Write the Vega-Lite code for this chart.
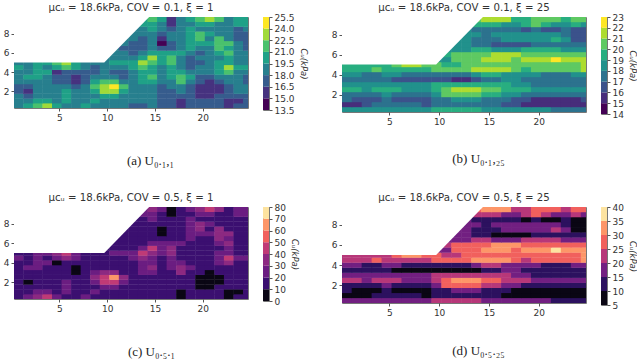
{"$schema":"https://vega.github.io/schema/vega-lite/v6.json","padding":{"left":2,"top":2,"right":0,"bottom":0},"background":"white","bounds":"flush","columns":5,"spacing":{"column":15,"row":93},
"config":{"view":{"stroke":"#777"},"axis":{"grid":false,"domain":false,"tickColor":"#555","tickSize":3,"labelFontSize":9,"labelColor":"#333","labelFont":"DejaVu Sans","labelPadding":2,"labelOverlap":false},"title":{"font":"DejaVu Sans","fontSize":10.2,"fontWeight":"normal","color":"#333","offset":4}},
"datasets":{
"mask":[{"sx":0.25,"sy":5},{"sx":9.7,"sy":5},{"sx":14.4,"sy":9.75}],
"barA":[{"lo":13.5,"hi":15},{"lo":15,"hi":16.5},{"lo":16.5,"hi":18},{"lo":18,"hi":19.5},{"lo":19.5,"hi":21},{"lo":21,"hi":22.5},{"lo":22.5,"hi":24},{"lo":24,"hi":25.5}],
"barB":[{"lo":14,"hi":15},{"lo":15,"hi":16},{"lo":16,"hi":17},{"lo":17,"hi":18},{"lo":18,"hi":19},{"lo":19,"hi":20},{"lo":20,"hi":21},{"lo":21,"hi":22},{"lo":22,"hi":23}],
"barC":[{"lo":0,"hi":10},{"lo":10,"hi":20},{"lo":20,"hi":30},{"lo":30,"hi":40},{"lo":40,"hi":50},{"lo":50,"hi":60},{"lo":60,"hi":70},{"lo":70,"hi":80}],
"barD":[{"lo":5,"hi":10},{"lo":10,"hi":15},{"lo":15,"hi":20},{"lo":20,"hi":25},{"lo":25,"hi":30},{"lo":30,"hi":35},{"lo":35,"hi":40}],
"grid":[
{"x":0.75,"y":0.5,"a":19,"c":18,"b":18,"d":17},{"x":1.75,"y":0.5,"a":20,"c":25,"b":18,"d":17},{"x":2.75,"y":0.5,"a":22,"c":35,"b":18,"d":17},{"x":3.75,"y":0.5,"a":23,"c":48,"b":18,"d":17},{"x":4.75,"y":0.5,"a":20,"c":25,"b":18,"d":17},{"x":5.75,"y":0.5,"a":19,"c":18,"b":18,"d":17},{"x":6.75,"y":0.5,"a":19,"c":18,"b":18,"d":17},{"x":7.75,"y":0.5,"a":20,"c":25,"b":18,"d":17},{"x":8.75,"y":0.5,"a":19,"c":18,"b":18,"d":17},{"x":9.75,"y":0.5,"a":19,"c":18,"b":19,"d":22},{"x":10.75,"y":0.5,"a":19,"c":18,"b":19,"d":22},{"x":11.75,"y":0.5,"a":19,"c":18,"b":19,"d":22},{"x":12.75,"y":0.5,"a":17,"c":13,"b":19,"d":22},{"x":13.75,"y":0.5,"a":17,"c":13,"b":19,"d":22},{"x":14.75,"y":0.5,"a":19,"c":18,"b":18,"d":17},{"x":15.75,"y":0.5,"a":17,"c":13,"b":18,"d":17},{"x":16.75,"y":0.5,"a":17,"c":13,"b":18,"d":17},{"x":17.75,"y":0.5,"a":16,"c":8,"b":18,"d":17},{"x":18.75,"y":0.5,"a":17,"c":13,"b":18,"d":17},{"x":19.75,"y":0.5,"a":17,"c":13,"b":18,"d":17},{"x":20.75,"y":0.5,"a":17,"c":13,"b":18,"d":17},{"x":21.75,"y":0.5,"a":17,"c":13,"b":17,"d":12},{"x":22.75,"y":0.5,"a":16,"c":8,"b":17,"d":12},{"x":23.75,"y":0.5,"a":17,"c":13,"b":17,"d":12},{"x":24.75,"y":0.5,"a":17,"c":13,"b":17,"d":12},
{"x":0.75,"y":1,"a":19,"c":18,"b":15,"d":7},{"x":1.75,"y":1,"a":19,"c":18,"b":15,"d":7},{"x":2.75,"y":1,"a":20,"c":25,"b":16,"d":9},{"x":3.75,"y":1,"a":20,"c":25,"b":17,"d":12},{"x":4.75,"y":1,"a":19,"c":18,"b":17,"d":12},{"x":5.75,"y":1,"a":20,"c":25,"b":17,"d":12},{"x":6.75,"y":1,"a":19,"c":18,"b":17,"d":12},{"x":7.75,"y":1,"a":19,"c":18,"b":17,"d":12},{"x":8.75,"y":1,"a":20,"c":25,"b":16,"d":9},{"x":9.75,"y":1,"a":19,"c":18,"b":17,"d":12},{"x":10.75,"y":1,"a":19,"c":18,"b":17,"d":12},{"x":11.75,"y":1,"a":19,"c":18,"b":17,"d":12},{"x":12.75,"y":1,"a":19,"c":18,"b":17,"d":12},{"x":13.75,"y":1,"a":19,"c":18,"b":17,"d":12},{"x":14.75,"y":1,"a":19,"c":18,"b":17,"d":12},{"x":15.75,"y":1,"a":17,"c":13,"b":17,"d":12},{"x":16.75,"y":1,"a":17,"c":13,"b":16,"d":9},{"x":17.75,"y":1,"a":16,"c":8,"b":16,"d":9},{"x":18.75,"y":1,"a":17,"c":13,"b":15,"d":7},{"x":19.75,"y":1,"a":17,"c":13,"b":15,"d":7},{"x":20.75,"y":1,"a":17,"c":13,"b":15,"d":7},{"x":21.75,"y":1,"a":17,"c":13,"b":15,"d":7},{"x":22.75,"y":1,"a":16,"c":8,"b":15,"d":7},{"x":23.75,"y":1,"a":16,"c":8,"b":15,"d":7},{"x":24.75,"y":1,"a":17,"c":13,"b":15,"d":7},
{"x":0.75,"y":1.5,"a":19,"c":18,"b":17,"d":12},{"x":1.75,"y":1.5,"a":17,"c":13,"b":16,"d":9},{"x":2.75,"y":1.5,"a":19,"c":18,"b":16,"d":9},{"x":3.75,"y":1.5,"a":19,"c":18,"b":16,"d":9},{"x":4.75,"y":1.5,"a":19,"c":18,"b":17,"d":12},{"x":5.75,"y":1.5,"a":20,"c":25,"b":16,"d":9},{"x":6.75,"y":1.5,"a":19,"c":18,"b":16,"d":9},{"x":7.75,"y":1.5,"a":19,"c":18,"b":16,"d":9},{"x":8.75,"y":1.5,"a":19,"c":18,"b":16,"d":9},{"x":9.75,"y":1.5,"a":20,"c":25,"b":17,"d":12},{"x":10.75,"y":1.5,"a":20,"c":25,"b":17,"d":12},{"x":11.75,"y":1.5,"a":19,"c":18,"b":18,"d":17},{"x":12.75,"y":1.5,"a":19,"c":18,"b":18,"d":17},{"x":13.75,"y":1.5,"a":19,"c":18,"b":18,"d":17},{"x":14.75,"y":1.5,"a":19,"c":18,"b":17,"d":12},{"x":15.75,"y":1.5,"a":17,"c":13,"b":17,"d":12},{"x":16.75,"y":1.5,"a":17,"c":13,"b":17,"d":12},{"x":17.75,"y":1.5,"a":17,"c":13,"b":16,"d":9},{"x":18.75,"y":1.5,"a":17,"c":13,"b":16,"d":9},{"x":19.75,"y":1.5,"a":16,"c":8,"b":15,"d":7},{"x":20.75,"y":1.5,"a":16,"c":8,"b":15,"d":7},{"x":21.75,"y":1.5,"a":17,"c":13,"b":15,"d":7},{"x":22.75,"y":1.5,"a":17,"c":13,"b":15,"d":7},{"x":23.75,"y":1.5,"a":17,"c":13,"b":15,"d":7},{"x":24.75,"y":1.5,"a":17,"c":13,"b":16,"d":9},
{"x":0.75,"y":2,"a":17,"c":13,"b":17,"d":12},{"x":1.75,"y":2,"a":16,"c":8,"b":17,"d":12},{"x":2.75,"y":2,"a":19,"c":18,"b":17,"d":12},{"x":3.75,"y":2,"a":19,"c":18,"b":17,"d":12},{"x":4.75,"y":2,"a":19,"c":18,"b":18,"d":17},{"x":5.75,"y":2,"a":20,"c":25,"b":17,"d":12},{"x":6.75,"y":2,"a":19,"c":18,"b":17,"d":12},{"x":7.75,"y":2,"a":19,"c":18,"b":17,"d":12},{"x":8.75,"y":2,"a":20,"c":25,"b":17,"d":12},{"x":9.75,"y":2,"a":23,"c":48,"b":18,"d":17},{"x":10.75,"y":2,"a":23,"c":48,"b":20,"d":27},{"x":11.75,"y":2,"a":20,"c":25,"b":20,"d":27},{"x":12.75,"y":2,"a":19,"c":18,"b":20,"d":27},{"x":13.75,"y":2,"a":19,"c":18,"b":20,"d":27},{"x":14.75,"y":2,"a":19,"c":18,"b":19,"d":22},{"x":15.75,"y":2,"a":17,"c":13,"b":19,"d":22},{"x":16.75,"y":2,"a":17,"c":13,"b":18,"d":17},{"x":17.75,"y":2,"a":19,"c":18,"b":18,"d":17},{"x":18.75,"y":2,"a":17,"c":13,"b":17,"d":12},{"x":19.75,"y":2,"a":16,"c":8,"b":17,"d":12},{"x":20.75,"y":2,"a":16,"c":8,"b":17,"d":12},{"x":21.75,"y":2,"a":16,"c":8,"b":17,"d":12},{"x":22.75,"y":2,"a":17,"c":13,"b":17,"d":12},{"x":23.75,"y":2,"a":19,"c":18,"b":17,"d":12},{"x":24.75,"y":2,"a":19,"c":18,"b":17,"d":12},
{"x":0.75,"y":2.5,"a":17,"c":13,"b":19,"d":22},{"x":1.75,"y":2.5,"a":17,"c":13,"b":19,"d":22},{"x":2.75,"y":2.5,"a":19,"c":18,"b":18,"d":17},{"x":3.75,"y":2.5,"a":19,"c":18,"b":19,"d":22},{"x":4.75,"y":2.5,"a":19,"c":18,"b":19,"d":22},{"x":5.75,"y":2.5,"a":19,"c":18,"b":19,"d":22},{"x":6.75,"y":2.5,"a":17,"c":13,"b":18,"d":17},{"x":7.75,"y":2.5,"a":19,"c":18,"b":18,"d":17},{"x":8.75,"y":2.5,"a":22,"c":35,"b":18,"d":17},{"x":9.75,"y":2.5,"a":23,"c":48,"b":19,"d":22},{"x":10.75,"y":2.5,"a":25,"c":65,"b":20,"d":27},{"x":11.75,"y":2.5,"a":22,"c":35,"b":21,"d":33},{"x":12.75,"y":2.5,"a":19,"c":18,"b":21,"d":33},{"x":13.75,"y":2.5,"a":19,"c":18,"b":21,"d":33},{"x":14.75,"y":2.5,"a":19,"c":18,"b":20,"d":27},{"x":15.75,"y":2.5,"a":17,"c":13,"b":20,"d":27},{"x":16.75,"y":2.5,"a":19,"c":18,"b":19,"d":22},{"x":17.75,"y":2.5,"a":19,"c":18,"b":19,"d":22},{"x":18.75,"y":2.5,"a":17,"c":13,"b":19,"d":22},{"x":19.75,"y":2.5,"a":16,"c":8,"b":18,"d":17},{"x":20.75,"y":2.5,"a":16,"c":8,"b":18,"d":17},{"x":21.75,"y":2.5,"a":16,"c":8,"b":18,"d":17},{"x":22.75,"y":2.5,"a":17,"c":13,"b":18,"d":17},{"x":23.75,"y":2.5,"a":19,"c":18,"b":18,"d":17},{"x":24.75,"y":2.5,"a":19,"c":18,"b":18,"d":17},
{"x":0.75,"y":3,"a":19,"c":18,"b":18,"d":17},{"x":1.75,"y":3,"a":19,"c":18,"b":18,"d":17},{"x":2.75,"y":3,"a":19,"c":18,"b":18,"d":17},{"x":3.75,"y":3,"a":19,"c":18,"b":18,"d":17},{"x":4.75,"y":3,"a":17,"c":13,"b":18,"d":17},{"x":5.75,"y":3,"a":17,"c":13,"b":18,"d":17},{"x":6.75,"y":3,"a":16,"c":8,"b":18,"d":17},{"x":7.75,"y":3,"a":17,"c":13,"b":18,"d":17},{"x":8.75,"y":3,"a":20,"c":25,"b":18,"d":17},{"x":9.75,"y":3,"a":22,"c":35,"b":19,"d":22},{"x":10.75,"y":3,"a":22,"c":35,"b":19,"d":22},{"x":11.75,"y":3,"a":19,"c":18,"b":19,"d":22},{"x":12.75,"y":3,"a":19,"c":18,"b":19,"d":22},{"x":13.75,"y":3,"a":20,"c":25,"b":19,"d":22},{"x":14.75,"y":3,"a":20,"c":25,"b":19,"d":22},{"x":15.75,"y":3,"a":19,"c":18,"b":19,"d":22},{"x":16.75,"y":3,"a":19,"c":18,"b":19,"d":22},{"x":17.75,"y":3,"a":22,"c":35,"b":18,"d":17},{"x":18.75,"y":3,"a":19,"c":18,"b":18,"d":17},{"x":19.75,"y":3,"a":17,"c":13,"b":17,"d":12},{"x":20.75,"y":3,"a":16,"c":8,"b":17,"d":12},{"x":21.75,"y":3,"a":17,"c":13,"b":17,"d":12},{"x":22.75,"y":3,"a":19,"c":18,"b":17,"d":12},{"x":23.75,"y":3,"a":19,"c":18,"b":17,"d":12},{"x":24.75,"y":3,"a":17,"c":13,"b":17,"d":12},
{"x":0.75,"y":3.5,"a":19,"c":18,"b":17,"d":12},{"x":1.75,"y":3.5,"a":20,"c":25,"b":17,"d":12},{"x":2.75,"y":3.5,"a":20,"c":25,"b":17,"d":12},{"x":3.75,"y":3.5,"a":19,"c":18,"b":17,"d":12},{"x":4.75,"y":3.5,"a":17,"c":13,"b":17,"d":12},{"x":5.75,"y":3.5,"a":17,"c":13,"b":16,"d":9},{"x":6.75,"y":3.5,"a":16,"c":8,"b":16,"d":9},{"x":7.75,"y":3.5,"a":17,"c":13,"b":16,"d":9},{"x":8.75,"y":3.5,"a":19,"c":18,"b":16,"d":9},{"x":9.75,"y":3.5,"a":19,"c":18,"b":16,"d":9},{"x":10.75,"y":3.5,"a":19,"c":18,"b":16,"d":9},{"x":11.75,"y":3.5,"a":17,"c":13,"b":15,"d":7},{"x":12.75,"y":3.5,"a":19,"c":18,"b":15,"d":7},{"x":13.75,"y":3.5,"a":20,"c":25,"b":16,"d":9},{"x":14.75,"y":3.5,"a":22,"c":35,"b":17,"d":12},{"x":15.75,"y":3.5,"a":19,"c":18,"b":17,"d":12},{"x":16.75,"y":3.5,"a":20,"c":25,"b":18,"d":17},{"x":17.75,"y":3.5,"a":22,"c":35,"b":18,"d":17},{"x":18.75,"y":3.5,"a":20,"c":25,"b":17,"d":12},{"x":19.75,"y":3.5,"a":17,"c":13,"b":17,"d":12},{"x":20.75,"y":3.5,"a":17,"c":13,"b":17,"d":12},{"x":21.75,"y":3.5,"a":19,"c":18,"b":17,"d":12},{"x":22.75,"y":3.5,"a":19,"c":18,"b":17,"d":12},{"x":23.75,"y":3.5,"a":19,"c":18,"b":17,"d":12},{"x":24.75,"y":3.5,"a":17,"c":13,"b":17,"d":12},
{"x":0.75,"y":4,"a":19,"c":18,"b":18,"d":17},{"x":1.75,"y":4,"a":19,"c":18,"b":18,"d":17},{"x":2.75,"y":4,"a":20,"c":25,"b":17,"d":12},{"x":3.75,"y":4,"a":20,"c":25,"b":17,"d":12},{"x":4.75,"y":4,"a":16,"c":8,"b":18,"d":17},{"x":5.75,"y":4,"a":17,"c":13,"b":18,"d":17},{"x":6.75,"y":4,"a":17,"c":13,"b":17,"d":12},{"x":7.75,"y":4,"a":17,"c":13,"b":17,"d":12},{"x":8.75,"y":4,"a":17,"c":13,"b":17,"d":12},{"x":9.75,"y":4,"a":19,"c":18,"b":17,"d":12},{"x":10.75,"y":4,"a":17,"c":13,"b":17,"d":12},{"x":11.75,"y":4,"a":17,"c":13,"b":17,"d":12},{"x":12.75,"y":4,"a":19,"c":18,"b":17,"d":12},{"x":13.75,"y":4,"a":20,"c":25,"b":18,"d":17},{"x":14.75,"y":4,"a":20,"c":25,"b":19,"d":22},{"x":15.75,"y":4,"a":19,"c":18,"b":19,"d":22},{"x":16.75,"y":4,"a":20,"c":25,"b":18,"d":17},{"x":17.75,"y":4,"a":20,"c":25,"b":18,"d":17},{"x":18.75,"y":4,"a":19,"c":18,"b":18,"d":17},{"x":19.75,"y":4,"a":19,"c":18,"b":18,"d":17},{"x":20.75,"y":4,"a":19,"c":18,"b":17,"d":12},{"x":21.75,"y":4,"a":20,"c":25,"b":17,"d":12},{"x":22.75,"y":4,"a":22,"c":35,"b":17,"d":12},{"x":23.75,"y":4,"a":19,"c":18,"b":18,"d":17},{"x":24.75,"y":4,"a":19,"c":18,"b":18,"d":17},
{"x":0.75,"y":4.5,"a":20,"c":25,"b":19,"d":22},{"x":1.75,"y":4.5,"a":19,"c":18,"b":19,"d":22},{"x":2.75,"y":4.5,"a":20,"c":25,"b":19,"d":22},{"x":3.75,"y":4.5,"a":19,"c":18,"b":20,"d":27},{"x":4.75,"y":4.5,"a":20,"c":25,"b":19,"d":22},{"x":5.75,"y":4.5,"a":22,"c":35,"b":19,"d":22},{"x":6.75,"y":4.5,"a":20,"c":25,"b":19,"d":22},{"x":7.75,"y":4.5,"a":19,"c":18,"b":19,"d":22},{"x":8.75,"y":4.5,"a":17,"c":13,"b":19,"d":22},{"x":9.75,"y":4.5,"a":19,"c":18,"b":20,"d":27},{"x":10.75,"y":4.5,"a":19,"c":18,"b":20,"d":27},{"x":11.75,"y":4.5,"a":19,"c":18,"b":20,"d":27},{"x":12.75,"y":4.5,"a":20,"c":25,"b":20,"d":27},{"x":13.75,"y":4.5,"a":22,"c":35,"b":21,"d":33},{"x":14.75,"y":4.5,"a":20,"c":25,"b":21,"d":33},{"x":15.75,"y":4.5,"a":19,"c":18,"b":21,"d":33},{"x":16.75,"y":4.5,"a":20,"c":25,"b":21,"d":33},{"x":17.75,"y":4.5,"a":19,"c":18,"b":20,"d":27},{"x":18.75,"y":4.5,"a":17,"c":13,"b":19,"d":22},{"x":19.75,"y":4.5,"a":19,"c":18,"b":20,"d":27},{"x":20.75,"y":4.5,"a":19,"c":18,"b":20,"d":27},{"x":21.75,"y":4.5,"a":20,"c":25,"b":20,"d":27},{"x":22.75,"y":4.5,"a":23,"c":48,"b":20,"d":27},{"x":23.75,"y":4.5,"a":20,"c":25,"b":20,"d":27},{"x":24.75,"y":4.5,"a":20,"c":25,"b":21,"d":33},
{"x":0.75,"y":5,"a":19,"c":18,"b":19,"d":22},{"x":1.75,"y":5,"a":19,"c":18,"b":19,"d":22},{"x":2.75,"y":5,"a":20,"c":25,"b":19,"d":22},{"x":3.75,"y":5,"a":20,"c":25,"b":19,"d":22},{"x":4.75,"y":5,"a":22,"c":35,"b":19,"d":22},{"x":5.75,"y":5,"a":23,"c":48,"b":20,"d":27},{"x":6.75,"y":5,"a":20,"c":25,"b":21,"d":33},{"x":7.75,"y":5,"a":19,"c":18,"b":21,"d":33},{"x":8.75,"y":5,"a":19,"c":18,"b":20,"d":27},{"x":9.75,"y":5,"a":19,"c":18,"b":20,"d":27},{"x":10.75,"y":5,"a":20,"c":25,"b":19,"d":22},{"x":11.75,"y":5,"a":20,"c":25,"b":19,"d":22},{"x":12.75,"y":5,"a":20,"c":25,"b":20,"d":27},{"x":13.75,"y":5,"a":23,"c":48,"b":20,"d":27},{"x":14.75,"y":5,"a":22,"c":35,"b":20,"d":27},{"x":15.75,"y":5,"a":20,"c":25,"b":20,"d":27},{"x":16.75,"y":5,"a":22,"c":35,"b":20,"d":27},{"x":17.75,"y":5,"a":19,"c":18,"b":20,"d":27},{"x":18.75,"y":5,"a":17,"c":13,"b":20,"d":27},{"x":19.75,"y":5,"a":17,"c":13,"b":20,"d":27},{"x":20.75,"y":5,"a":19,"c":18,"b":20,"d":27},{"x":21.75,"y":5,"a":20,"c":25,"b":20,"d":27},{"x":22.75,"y":5,"a":20,"c":25,"b":20,"d":27},{"x":23.75,"y":5,"a":19,"c":18,"b":20,"d":27},{"x":24.75,"y":5,"a":19,"c":18,"b":21,"d":33},
{"x":9.75,"y":5.5,"a":19,"c":18,"b":18,"d":17},{"x":10.75,"y":5.5,"a":19,"c":18,"b":18,"d":17},{"x":11.75,"y":5.5,"a":19,"c":18,"b":20,"d":27},{"x":12.75,"y":5.5,"a":19,"c":18,"b":20,"d":27},{"x":13.75,"y":5.5,"a":20,"c":25,"b":20,"d":27},{"x":14.75,"y":5.5,"a":23,"c":48,"b":21,"d":33},{"x":15.75,"y":5.5,"a":20,"c":25,"b":21,"d":33},{"x":16.75,"y":5.5,"a":22,"c":35,"b":21,"d":33},{"x":17.75,"y":5.5,"a":19,"c":18,"b":20,"d":27},{"x":18.75,"y":5.5,"a":17,"c":13,"b":21,"d":33},{"x":19.75,"y":5.5,"a":19,"c":18,"b":21,"d":33},{"x":20.75,"y":5.5,"a":19,"c":18,"b":21,"d":33},{"x":21.75,"y":5.5,"a":19,"c":18,"b":22,"d":38},{"x":22.75,"y":5.5,"a":20,"c":25,"b":21,"d":33},{"x":23.75,"y":5.5,"a":19,"c":18,"b":21,"d":33},{"x":24.75,"y":5.5,"a":19,"c":18,"b":21,"d":33},
{"x":10.75,"y":6,"a":19,"c":18,"b":19,"d":22},{"x":11.75,"y":6,"a":19,"c":18,"b":20,"d":27},{"x":12.75,"y":6,"a":17,"c":13,"b":20,"d":27},{"x":13.75,"y":6,"a":19,"c":18,"b":20,"d":27},{"x":14.75,"y":6,"a":20,"c":25,"b":20,"d":27},{"x":15.75,"y":6,"a":20,"c":25,"b":21,"d":33},{"x":16.75,"y":6,"a":20,"c":25,"b":21,"d":33},{"x":17.75,"y":6,"a":20,"c":25,"b":21,"d":33},{"x":18.75,"y":6,"a":19,"c":18,"b":20,"d":27},{"x":19.75,"y":6,"a":17,"c":13,"b":20,"d":27},{"x":20.75,"y":6,"a":19,"c":18,"b":20,"d":27},{"x":21.75,"y":6,"a":20,"c":25,"b":20,"d":27},{"x":22.75,"y":6,"a":22,"c":35,"b":20,"d":27},{"x":23.75,"y":6,"a":19,"c":18,"b":20,"d":27},{"x":24.75,"y":6,"a":19,"c":18,"b":20,"d":27},
{"x":10.75,"y":6.5,"a":19,"c":18,"b":18,"d":17},{"x":11.75,"y":6.5,"a":17,"c":13,"b":18,"d":17},{"x":12.75,"y":6.5,"a":17,"c":13,"b":18,"d":17},{"x":13.75,"y":6.5,"a":17,"c":13,"b":19,"d":22},{"x":14.75,"y":6.5,"a":19,"c":18,"b":19,"d":22},{"x":15.75,"y":6.5,"a":17,"c":13,"b":18,"d":17},{"x":16.75,"y":6.5,"a":17,"c":13,"b":18,"d":17},{"x":17.75,"y":6.5,"a":19,"c":18,"b":18,"d":17},{"x":18.75,"y":6.5,"a":20,"c":25,"b":19,"d":22},{"x":19.75,"y":6.5,"a":19,"c":18,"b":19,"d":22},{"x":20.75,"y":6.5,"a":19,"c":18,"b":19,"d":22},{"x":21.75,"y":6.5,"a":22,"c":35,"b":19,"d":22},{"x":22.75,"y":6.5,"a":20,"c":25,"b":18,"d":17},{"x":23.75,"y":6.5,"a":19,"c":18,"b":18,"d":17},{"x":24.75,"y":6.5,"a":17,"c":13,"b":18,"d":17},
{"x":11.75,"y":7,"a":19,"c":18,"b":18,"d":17},{"x":12.75,"y":7,"a":17,"c":13,"b":18,"d":17},{"x":13.75,"y":7,"a":17,"c":13,"b":17,"d":12},{"x":14.75,"y":7,"a":19,"c":18,"b":17,"d":12},{"x":15.75,"y":7,"a":14,"c":5,"b":16,"d":9},{"x":16.75,"y":7,"a":17,"c":13,"b":16,"d":9},{"x":17.75,"y":7,"a":19,"c":18,"b":16,"d":9},{"x":18.75,"y":7,"a":20,"c":25,"b":16,"d":9},{"x":19.75,"y":7,"a":20,"c":25,"b":17,"d":12},{"x":20.75,"y":7,"a":20,"c":25,"b":17,"d":12},{"x":21.75,"y":7,"a":22,"c":35,"b":17,"d":12},{"x":22.75,"y":7,"a":22,"c":35,"b":17,"d":12},{"x":23.75,"y":7,"a":19,"c":18,"b":17,"d":12},{"x":24.75,"y":7,"a":17,"c":13,"b":17,"d":12},
{"x":11.75,"y":7.5,"a":19,"c":18,"b":18,"d":17},{"x":12.75,"y":7.5,"a":19,"c":18,"b":18,"d":17},{"x":13.75,"y":7.5,"a":17,"c":13,"b":17,"d":12},{"x":14.75,"y":7.5,"a":19,"c":18,"b":17,"d":12},{"x":15.75,"y":7.5,"a":16,"c":8,"b":17,"d":12},{"x":16.75,"y":7.5,"a":19,"c":18,"b":18,"d":17},{"x":17.75,"y":7.5,"a":19,"c":18,"b":18,"d":17},{"x":18.75,"y":7.5,"a":20,"c":25,"b":18,"d":17},{"x":19.75,"y":7.5,"a":22,"c":35,"b":18,"d":17},{"x":20.75,"y":7.5,"a":19,"c":18,"b":18,"d":17},{"x":21.75,"y":7.5,"a":22,"c":35,"b":19,"d":22},{"x":22.75,"y":7.5,"a":19,"c":18,"b":18,"d":17},{"x":23.75,"y":7.5,"a":17,"c":13,"b":16,"d":9},{"x":24.75,"y":7.5,"a":17,"c":13,"b":16,"d":9},
{"x":12.75,"y":8,"a":19,"c":18,"b":18,"d":17},{"x":13.75,"y":8,"a":19,"c":18,"b":18,"d":17},{"x":14.75,"y":8,"a":19,"c":18,"b":17,"d":12},{"x":15.75,"y":8,"a":17,"c":13,"b":18,"d":17},{"x":16.75,"y":8,"a":19,"c":18,"b":18,"d":17},{"x":17.75,"y":8,"a":19,"c":18,"b":18,"d":17},{"x":18.75,"y":8,"a":20,"c":25,"b":18,"d":17},{"x":19.75,"y":8,"a":22,"c":35,"b":18,"d":17},{"x":20.75,"y":8,"a":20,"c":25,"b":18,"d":17},{"x":21.75,"y":8,"a":19,"c":18,"b":18,"d":17},{"x":22.75,"y":8,"a":19,"c":18,"b":17,"d":12},{"x":23.75,"y":8,"a":17,"c":13,"b":16,"d":9},{"x":24.75,"y":8,"a":17,"c":13,"b":16,"d":9},
{"x":12.75,"y":8.5,"a":19,"c":18,"b":18,"d":17},{"x":13.75,"y":8.5,"a":19,"c":18,"b":17,"d":12},{"x":14.75,"y":8.5,"a":20,"c":25,"b":17,"d":12},{"x":15.75,"y":8.5,"a":19,"c":18,"b":17,"d":12},{"x":16.75,"y":8.5,"a":17,"c":13,"b":17,"d":12},{"x":17.75,"y":8.5,"a":19,"c":18,"b":17,"d":12},{"x":18.75,"y":8.5,"a":20,"c":25,"b":16,"d":9},{"x":19.75,"y":8.5,"a":19,"c":18,"b":17,"d":12},{"x":20.75,"y":8.5,"a":19,"c":18,"b":16,"d":9},{"x":21.75,"y":8.5,"a":19,"c":18,"b":16,"d":9},{"x":22.75,"y":8.5,"a":19,"c":18,"b":17,"d":12},{"x":23.75,"y":8.5,"a":17,"c":13,"b":16,"d":9},{"x":24.75,"y":8.5,"a":19,"c":18,"b":16,"d":9},
{"x":13.75,"y":9,"a":20,"c":25,"b":19,"d":22},{"x":14.75,"y":9,"a":20,"c":25,"b":19,"d":22},{"x":15.75,"y":9,"a":19,"c":18,"b":19,"d":22},{"x":16.75,"y":9,"a":16,"c":8,"b":18,"d":17},{"x":17.75,"y":9,"a":19,"c":18,"b":18,"d":17},{"x":18.75,"y":9,"a":19,"c":18,"b":19,"d":22},{"x":19.75,"y":9,"a":20,"c":25,"b":20,"d":27},{"x":20.75,"y":9,"a":20,"c":25,"b":19,"d":22},{"x":21.75,"y":9,"a":19,"c":18,"b":18,"d":17},{"x":22.75,"y":9,"a":19,"c":18,"b":18,"d":17},{"x":23.75,"y":9,"a":20,"c":25,"b":19,"d":22},{"x":24.75,"y":9,"a":20,"c":25,"b":18,"d":17},
{"x":13.75,"y":9.5,"a":20,"c":25,"b":20,"d":27},{"x":14.75,"y":9.5,"a":22,"c":35,"b":21,"d":33},{"x":15.75,"y":9.5,"a":20,"c":25,"b":21,"d":33},{"x":16.75,"y":9.5,"a":16,"c":8,"b":21,"d":33},{"x":17.75,"y":9.5,"a":19,"c":18,"b":19,"d":22},{"x":18.75,"y":9.5,"a":20,"c":25,"b":19,"d":22},{"x":19.75,"y":9.5,"a":22,"c":35,"b":20,"d":27},{"x":20.75,"y":9.5,"a":23,"c":48,"b":20,"d":27},{"x":21.75,"y":9.5,"a":22,"c":35,"b":20,"d":27},{"x":22.75,"y":9.5,"a":19,"c":18,"b":19,"d":22},{"x":23.75,"y":9.5,"a":20,"c":25,"b":20,"d":27},{"x":24.75,"y":9.5,"a":20,"c":25,"b":20,"d":27}
]},
"concat":[
{"width":234,"height":91,"title":"μᴄᵤ = 18.6kPa, COV = 0.1, ξ = 1","layer":[
{"data":{"name":"grid"},"mark":{"type":"rect","width":10,"height":5.2,"clip":true},"encoding":{"x":{"field":"x","type":"quantitative","scale":{"domain":[0.25,24.75],"nice":false,"zero":false},"axis":{"values":[5,10,15,20],"title":"(a) U₀.₁,₁","titleFont":"Liberation Serif","titleFontSize":13,"titleFontWeight":"normal","titleColor":"#222","titleX":136,"titleY":56,"titleAlign":"center","titleBaseline":"alphabetic"}},"y":{"field":"y","type":"quantitative","scale":{"domain":[0.25,9.75],"nice":false,"zero":false},"axis":{"values":[2,4,6,8],"title":null}},"color":{"field":"a","type":"quantitative","legend":null,"scale":{"type":"threshold","domain":[15,16.5,18,19.5,21,22.5,24],"range":["#440154","#46327f","#365c8d","#277f8e","#1fa187","#4ac16d","#a0da39","#fde725"]}}}},
{"data":{"name":"mask"},"mark":{"type":"area","fill":"white","clip":true},"encoding":{"x":{"field":"sx","type":"quantitative"},"y":{"field":"sy","type":"quantitative","axis":{"values":[2,4,6,8],"title":null}},"y2":{"datum":9.75}}}
]},
{"width":6,"height":93,"data":{"name":"barA"},"mark":"rect","encoding":{"y":{"field":"lo","type":"quantitative","scale":{"domain":[13.5,25.5],"nice":false,"zero":false},"axis":{"orient":"right","values":[13.5,15,16.5,18,19.5,21,22.5,24,25.5],"format":".1f","title":"Cᵤ(kPa)","titleFontStyle":"italic","titleFontWeight":"normal","titleFontSize":8.5,"titleColor":"#333","titleFont":"DejaVu Sans"}},"y2":{"field":"hi"},"color":{"field":"lo","type":"quantitative","legend":null,"scale":{"type":"threshold","domain":[15,16.5,18,19.5,21,22.5,24],"range":["#440154","#46327f","#365c8d","#277f8e","#1fa187","#4ac16d","#a0da39","#fde725"]}}}},
{"width":43,"height":1,"view":{"stroke":null},"data":{"values":[{"k":0}]},"mark":{"type":"point","opacity":0},"encoding":{}},
{"width":244,"height":95,"title":"μᴄᵤ = 18.6kPa, COV = 0.1, ξ = 25","layer":[
{"data":{"name":"grid"},"mark":{"type":"rect","width":10.5,"height":5.4,"clip":true},"encoding":{"x":{"field":"x","type":"quantitative","scale":{"domain":[0.25,24.75],"nice":false,"zero":false},"axis":{"values":[5,10,15,20],"title":"(b) U₀.₁,₂₅","titleFont":"Liberation Serif","titleFontSize":13,"titleFontWeight":"normal","titleColor":"#222","titleX":136,"titleY":50,"titleAlign":"center","titleBaseline":"alphabetic"}},"y":{"field":"y","type":"quantitative","scale":{"domain":[0.25,9.75],"nice":false,"zero":false},"axis":{"values":[2,4,6,8],"title":null}},"color":{"field":"b","type":"quantitative","legend":null,"scale":{"type":"threshold","domain":[15,16,17,18,19,20,21,22],"range":["#440154","#472d7b","#3b528b","#2c728e","#21918c","#28ae80","#5ec962","#addc30","#fde725"]}}}},
{"data":{"name":"mask"},"mark":{"type":"area","fill":"white","clip":true},"encoding":{"x":{"field":"sx","type":"quantitative"},"y":{"field":"sy","type":"quantitative","axis":{"values":[2,4,6,8],"title":null}},"y2":{"datum":9.75}}}
]},
{"width":6,"height":97,"data":{"name":"barB"},"mark":"rect","encoding":{"y":{"field":"lo","type":"quantitative","scale":{"domain":[14,23],"nice":false,"zero":false},"axis":{"orient":"right","values":[14,15,16,17,18,19,20,21,22,23],"title":"Cᵤ(kPa)","titleFontStyle":"italic","titleFontWeight":"normal","titleFontSize":8.5,"titleColor":"#333","titleFont":"DejaVu Sans"}},"y2":{"field":"hi"},"color":{"field":"lo","type":"quantitative","legend":null,"scale":{"type":"threshold","domain":[15,16,17,18,19,20,21,22],"range":["#440154","#472d7b","#3b528b","#2c728e","#21918c","#28ae80","#5ec962","#addc30","#fde725"]}}}},
{"width":234,"height":92,"title":"μᴄᵤ = 18.6kPa, COV = 0.5, ξ = 1","layer":[
{"data":{"name":"grid"},"mark":{"type":"rect","width":10,"height":5.2,"clip":true},"encoding":{"x":{"field":"x","type":"quantitative","scale":{"domain":[0.25,24.75],"nice":false,"zero":false},"axis":{"values":[5,10,15,20],"title":"(c) U₀.₅.₁","titleFont":"Liberation Serif","titleFontSize":13,"titleFontWeight":"normal","titleColor":"#222","titleX":137,"titleY":56,"titleAlign":"center","titleBaseline":"alphabetic"}},"y":{"field":"y","type":"quantitative","scale":{"domain":[0.25,9.75],"nice":false,"zero":false},"axis":{"values":[2,4,6,8],"title":null}},"color":{"field":"c","type":"quantitative","legend":null,"scale":{"type":"threshold","domain":[10,20,30,40,50,60,70],"range":["#0a0614","#3b0f70","#6b1d81","#8c2981","#c03a76","#f1605d","#fd9668","#fde3a0"]}}}},
{"data":{"name":"mask"},"mark":{"type":"area","fill":"white","clip":true},"encoding":{"x":{"field":"sx","type":"quantitative"},"y":{"field":"sy","type":"quantitative","axis":{"values":[2,4,6,8],"title":null}},"y2":{"datum":9.75}}}
]},
{"width":6,"height":94,"data":{"name":"barC"},"mark":"rect","encoding":{"y":{"field":"lo","type":"quantitative","scale":{"domain":[0,80],"nice":false,"zero":false},"axis":{"orient":"right","values":[0,10,20,30,40,50,60,70,80],"title":"Cᵤ(kPa)","titleFontStyle":"italic","titleFontWeight":"normal","titleFontSize":8.5,"titleColor":"#333","titleFont":"DejaVu Sans"}},"y2":{"field":"hi"},"color":{"field":"lo","type":"quantitative","legend":null,"scale":{"type":"threshold","domain":[10,20,30,40,50,60,70],"range":["#0a0614","#3b0f70","#6b1d81","#8c2981","#c03a76","#f1605d","#fd9668","#fde3a0"]}}}},
{"width":43,"height":1,"view":{"stroke":null},"data":{"values":[{"k":1}]},"mark":{"type":"point","opacity":0},"encoding":{}},
{"width":244,"height":96,"title":"μᴄᵤ = 18.6kPa, COV = 0.5, ξ = 25","layer":[
{"data":{"name":"grid"},"mark":{"type":"rect","width":10.5,"height":5.4,"clip":true},"encoding":{"x":{"field":"x","type":"quantitative","scale":{"domain":[0.25,24.75],"nice":false,"zero":false},"axis":{"values":[5,10,15,20],"title":"(d) U₀.₅.₂₅","titleFont":"Liberation Serif","titleFontSize":13,"titleFontWeight":"normal","titleColor":"#222","titleX":136,"titleY":51,"titleAlign":"center","titleBaseline":"alphabetic"}},"y":{"field":"y","type":"quantitative","scale":{"domain":[0.25,9.75],"nice":false,"zero":false},"axis":{"values":[2,4,6,8],"title":null}},"color":{"field":"d","type":"quantitative","legend":null,"scale":{"type":"threshold","domain":[10,15,20,25,30,35],"range":["#0a0614","#2c115f","#721f81","#b73779","#f1605d","#fd9668","#fde3a0"]}}}},
{"data":{"name":"mask"},"mark":{"type":"area","fill":"white","clip":true},"encoding":{"x":{"field":"sx","type":"quantitative"},"y":{"field":"sy","type":"quantitative","axis":{"values":[2,4,6,8],"title":null}},"y2":{"datum":9.75}}}
]},
{"width":6,"height":98,"data":{"name":"barD"},"mark":"rect","encoding":{"y":{"field":"lo","type":"quantitative","scale":{"domain":[5,40],"nice":false,"zero":false},"axis":{"orient":"right","values":[5,10,15,20,25,30,35,40],"title":"Cᵤ(kPa)","titleFontStyle":"italic","titleFontWeight":"normal","titleFontSize":8.5,"titleColor":"#333","titleFont":"DejaVu Sans"}},"y2":{"field":"hi"},"color":{"field":"lo","type":"quantitative","legend":null,"scale":{"type":"threshold","domain":[10,15,20,25,30,35],"range":["#0a0614","#2c115f","#721f81","#b73779","#f1605d","#fd9668","#fde3a0"]}}}}
],
"resolve":{"scale":{"color":"independent"}}}
